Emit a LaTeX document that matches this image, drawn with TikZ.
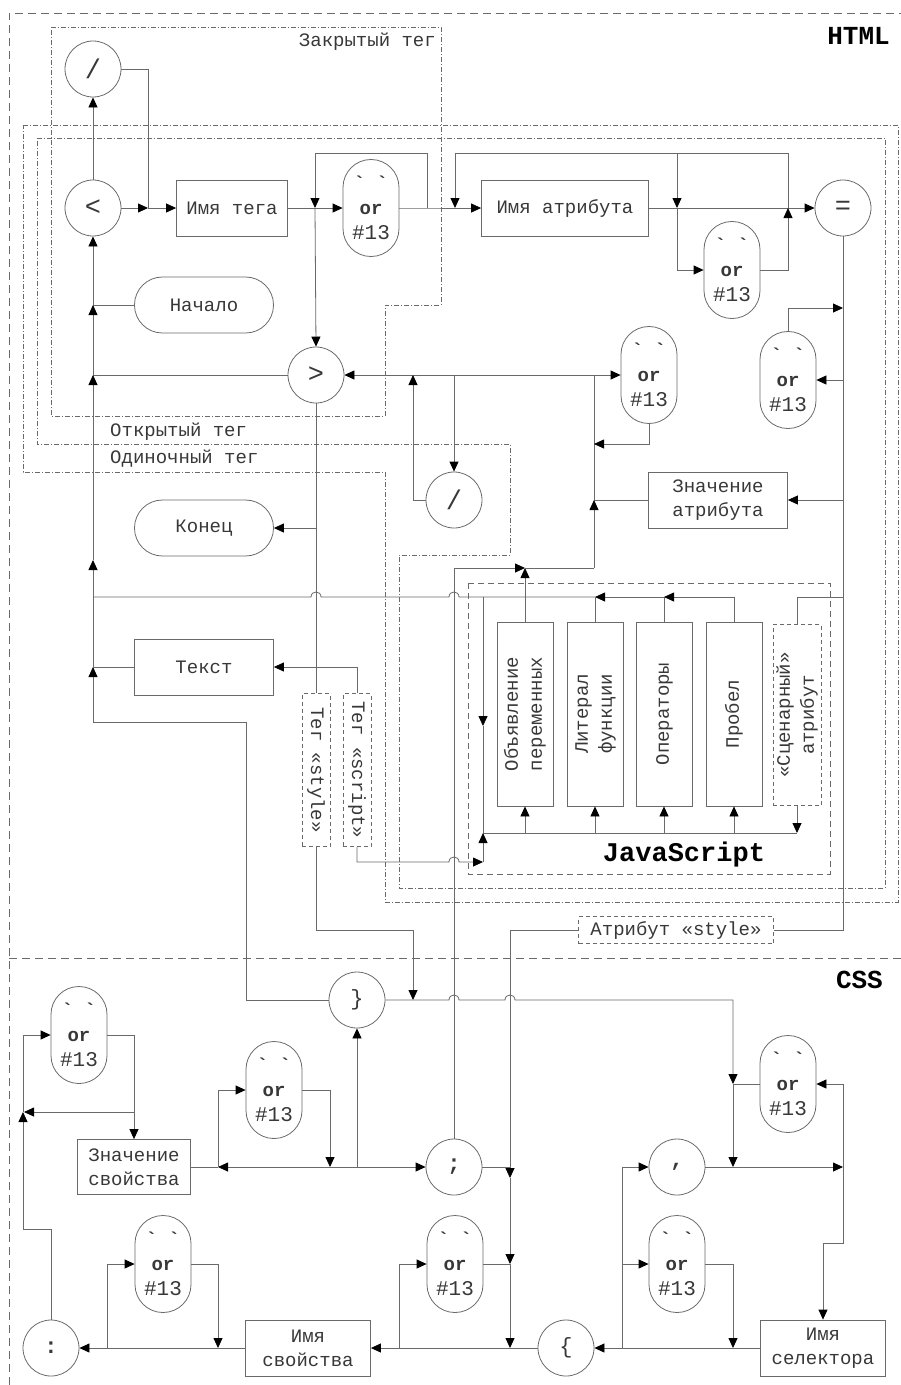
\documentclass[tikz,border=0pt]{standalone}
\usepackage{fontspec}
\setmainfont{Liberation Mono}
\setmonofont{Liberation Mono}
\usepackage{graphicx}
\usetikzlibrary{arrows.meta}
\definecolor{lc}{HTML}{6A6A6A}
\definecolor{tc}{HTML}{383838}
\newcommand\myfs{\ttfamily\fontsize{19}{24}\selectfont}
\newcommand\bigsym{\ttfamily\fontsize{27}{27}\selectfont}
\newcommand\wstext{{\bfseries `\ `}\\{\bfseries or}\\{\fontsize{21}{25}\selectfont\#13}}
\newcommand\rot[1]{\rotatebox{90}{\begin{tabular}{@{}c@{}}#1\end{tabular}}}
\tikzset{
 ln/.style={draw=lc,line width=0.8pt},
 arr/.style={ln,-{Triangle[length=10pt,width=9pt,color=black]}},
 cir/.style={circle,draw=lc,line width=0.8pt,minimum size=56pt,inner sep=0pt,text=tc,font=\myfs},
 rbox/.style={rectangle,draw=lc,line width=0.8pt,inner sep=0pt,text=tc,align=center,font=\myfs},
 stad/.style={rbox,rounded corners=27.9pt,minimum width=139pt,minimum height=56pt},
 ws/.style={rbox,rounded corners=27.9pt,minimum width=56pt,minimum height=97pt,font=\ttfamily\fontsize{19}{25}\selectfont},
 dbox/.style={rbox,dash pattern=on 4pt off 3pt},
 outerframe/.style={draw=lc,line width=0.8pt,dash pattern=on 8pt off 5pt},
 dd/.style={draw=lc,line width=0.7pt,dash pattern=on 5pt off 2pt on 1pt off 2pt},
 jsframe/.style={draw=lc,line width=0.8pt,dash pattern=on 6pt off 4pt},
 lbl/.style={text=tc,font=\myfs,inner sep=0pt},
}
\begin{document}
\begin{tikzpicture}[x=1pt,y=-1pt]
\useasboundingbox (0,0) rectangle (901,1385);
% frames
\draw[outerframe] (9,1385) -- (9,13) -- (901,13);
\draw[outerframe] (9,958) -- (901,958);
\draw[dd] (51,27) -- (441,27) -- (441,305) -- (385,305) -- (385,416) -- (51,416) -- cycle;
\draw[dd] (37,138) -- (885,138) -- (885,888) -- (399,888) -- (399,555) -- (510,555) -- (510,444) -- (37,444) -- cycle;
\draw[dd] (23,125) -- (898,125) -- (898,902) -- (385,902) -- (385,472) -- (23,472) -- cycle;
\draw[jsframe] (468,583) rectangle (830,874);
% labels
\node[lbl,anchor=east] (lclosed) at (436,42) {Закрытый тег};
\node[lbl,anchor=west] (lopen) at (110,432) {Открытый тег};
\node[lbl,anchor=west] (lsingle) at (110,459) {Одиночный тег};
\node[inner sep=0pt,anchor=east,font=\ttfamily\fontsize{26}{26}\selectfont\bfseries] (lhtml) at (890,36) {HTML};
\node[inner sep=0pt,anchor=east,font=\ttfamily\fontsize{26}{26}\selectfont\bfseries] (lcss) at (883,980) {CSS};
\node[inner sep=0pt,font=\ttfamily\fontsize{27}{27}\selectfont\bfseries] (ljs) at (684,855) {JavaScript};
% HTML nodes
\node[cir,font=\bigsym] (sl1) at (93,69) {/};
\node[cir,font=\bigsym] (lt) at (93,208) {<};
\node[rbox,minimum width=111pt,minimum height=56pt] (tagname) at (232,208) {Имя тега};
\node[ws] (ws1) at (371,208) {\wstext};
\node[rbox,minimum width=167pt,minimum height=56pt] (attrname) at (565,208) {Имя атрибута};
\node[ws] (ws2) at (732,270) {\wstext};
\node[cir,font=\bigsym] (eq) at (843,208) {=};
\node[stad] (start) at (204,305) {Начало};
\node[cir,font=\bigsym] (gt) at (316,375) {>};
\node[ws] (ws4) at (649,375) {\wstext};
\node[ws] (ws3) at (788,380) {\wstext};
\node[cir,font=\bigsym] (sl2) at (454,500) {/};
\node[rbox,minimum width=139pt,minimum height=56pt] (attrval) at (718,500) {Значение\\атрибута};
\node[stad] (end) at (204,528) {Конец};
\node[rbox,minimum width=139pt,minimum height=56pt] (text) at (204,667) {Текст};
\node[dbox,minimum width=28pt,minimum height=153pt] (tstyle) at (316,770) {\rotatebox{-90}{Тег «style»}};
\node[dbox,minimum width=28pt,minimum height=153pt] (tscript) at (357,770) {\rotatebox{-90}{Тег «script»}};
\node[rbox,minimum width=56pt,minimum height=184pt] (js1) at (525,714) {\rot{Объявление\\переменных}};
\node[rbox,minimum width=56pt,minimum height=184pt] (js2) at (595,714) {\rot{Литерал\\функции}};
\node[rbox,minimum width=56pt,minimum height=184pt] (js3) at (664,714) {\rot{Операторы}};
\node[rbox,minimum width=56pt,minimum height=184pt] (js4) at (734,714) {\rot{Пробел}};
\node[dbox,minimum width=43pt,minimum height=181pt] (js5) at (797,715) {\rot{«Сценарный»\\атрибут}};
\node[dbox,minimum width=195pt,minimum height=27pt] (attrstyle) at (676,930) {Атрибут «style»};
% CSS nodes
\node[cir,font=\ttfamily\fontsize{22}{22}\selectfont] (rbrace) at (357,1000) {\}};
\node[ws] (wsA) at (79,1035) {\wstext};
\node[ws] (wsB) at (274,1090) {\wstext};
\node[ws] (wsC) at (788,1084) {\wstext};
\node[rbox,minimum width=113pt,minimum height=55pt] (propval) at (134,1167) {Значение\\свойства};
\node[cir,font=\ttfamily\fontsize{22}{22}\selectfont] (semi) at (454,1167) {\bfseries ;};
\node[cir,font=\ttfamily\fontsize{22}{22}\selectfont] (comma) at (677,1167) {\bfseries ,};
\node[ws] (wsD) at (163,1264) {\wstext};
\node[ws] (wsE) at (455,1264) {\wstext};
\node[ws] (wsF) at (677,1264) {\wstext};
\node[cir,font=\ttfamily\fontsize{22}{22}\selectfont] (colon) at (51,1348) {\bfseries :};
\node[rbox,minimum width=125pt,minimum height=56pt] (propname) at (308,1348) {Имя\\свойства};
\node[cir,font=\ttfamily\fontsize{22}{22}\selectfont] (lbrace) at (566,1348) {\{};
\node[rbox,minimum width=125pt,minimum height=56pt] (selname) at (823,1348) {Имя\\селектора};
% junction coordinates
\coordinate (j1) at (148,208);
\coordinate (j2) at (315,208);
\coordinate (j3) at (427,208);
\coordinate (j4) at (455,208);
\coordinate (j5) at (677,208);
\coordinate (j6) at (788,208);
\coordinate (k1) at (594,500);
\coordinate (k2) at (594,375);
\coordinate (k3) at (594,568);
% top connectors
\draw[arr] (lt.north) -- (sl1.south);
\draw[arr] (lt.east) -- (j1);
\draw[ln] (sl1.east) -| (j1);
\draw[arr] (j1) -- (tagname.west);
\draw[ln] (tagname.east) -- (j2);
\draw[arr] (j2) -- (ws1.west);
\draw[ln] (ws1.east) -- (j3) -- (j4);
\draw[arr] (j3) -- (427,153) -- (315,153) -- (j2);
\draw[arr] (j2) -- (gt.north);
\draw[arr] (j4) -- (attrname.west);
\draw[ln] (attrname.east) -- (j6);
\draw[arr] (j6) -- (eq.west);
\draw[arr] (j6) -- (788,153) -- (455,153) -- (j4);
\draw[arr] (677,153) -- (j5);
\draw[arr] (j5) |- (ws2.west);
\draw[arr] (ws2.east) -| (j6);
% '=' vertical
\draw[ln] (eq.south) |- (attrstyle.east);
\draw[arr] (843,380) -- (ws3.east);
\draw[arr] (ws3.north) |- (843,308);
\draw[arr] (843,500) -- (attrval.east);
\draw[ln] (843,597) -| (js5.north);
% collector
\draw[ln] (attrval.west) -- (k1);
\draw[arr] (k3) -- (k1);
\draw[ln] (k1) -- (k2);
\draw[arr] (ws4.south) |- (594,444);
\draw[arr] (k2) -- (ws4.west);
\draw[arr] (k2) -- (gt.east);
\draw[arr] (454,375) -- (sl2.north);
\draw[arr] (sl2.west) -| (413,375);
% left vertical
\draw[ln] (gt.west) -- (93,375);
\draw[ln] (start.west) -- (93,305);
\draw[arr] (93,305) -- (lt.south);
\draw[arr] (93,375) -- (93,305);
\draw[arr] (93,560) -- (93,375);
\draw[arr] (93,667) -- (93,560);
\draw[arr] (rbrace.west) -| (246,722) -- (93,722) -- (93,667);
\draw[ln] (text.west) -- (93,667);
% '>' down
\draw[ln] (gt.south) -- (tstyle.north);
\draw[arr] (316,528) -- (end.east);
\draw[arr] (tscript.north) |- (text.east);
% JS buses
\draw[ln] (js3.north) -- (664,597);
\draw[arr] (js4.north) |- (664,597);
\draw[arr] (664,597) -- (595,597);
\draw[ln] (js2.north) -- (595,597);
\draw[ln] (595,597) -- (459,597) .. controls (459,590.3) and (449,590.3) .. (449,597) -- (321,597) .. controls (321,590.3) and (311,590.3) .. (311,597) -- (93,597);
\draw[arr] (483,597) -- (483,726);
\draw[ln] (483,726) -- (483,833) -- (797,833);
\draw[arr] (js5.south) -- (797,833);
\draw[arr] (525,833) -- (js1.south);
\draw[arr] (595,833) -- (js2.south);
\draw[arr] (664,833) -- (js3.south);
\draw[arr] (734,833) -- (js4.south);
\draw[arr] (tscript.south) |- (449,862) .. controls (449,855.3) and (459,855.3) .. (459,862) -- (483,862);
\draw[arr] (483,862) -- (483,833);
\draw[arr] (js1.north) -- (525,568);
\draw[arr] (454,568) -- (525,568);
\draw[ln] (525,568) -- (k3);
\draw[ln] (semi.north) -- (454,568);
% style tag
\draw[arr] (tstyle.south) |- (413,930) -- (413,1000);
\draw[arr] (rbrace.east) -- (449,1000) .. controls (449,993.3) and (459,993.3) .. (459,1000) -- (505,1000) .. controls (505,993.3) and (515,993.3) .. (515,1000) -- (733,1000) -- (733,1084);
\draw[ln] (wsC.west) -- (733,1084);
\draw[arr] (733,1084) -- (733,1167);
\draw[arr] (comma.east) -- (843,1167);
\draw[arr] (843,1167) |- (wsC.east);
\draw[arr] (843,1167) -- (843,1243) -| (selname.north);
\draw[arr] (selname.west) -- (lbrace.east);
\draw[arr] (wsF.east) -| (733,1348);
\draw[ln] (622,1348) -- (622,1167);
\draw[arr] (622,1264) -- (wsF.west);
\draw[arr] (622,1167) -- (comma.west);
% attribute style
\draw[ln] (attrstyle.west) -| (510,1167);
\draw[ln] (semi.east) -- (510,1167);
\draw[arr] (510,1167) -- (510,1178);
\draw[arr] (510,1178) -- (510,1264);
\draw[ln] (wsE.east) -- (510,1264);
\draw[arr] (510,1264) -- (510,1348);
\draw[arr] (lbrace.west) -- (propname.east);
\draw[arr] (399,1348) |- (wsE.west);
% left CSS
\draw[arr] (propname.west) -- (colon.east);
\draw[arr] (wsD.east) -| (218,1348);
\draw[arr] (107,1348) |- (wsD.west);
\draw[arr] (colon.north) |- (23,1229) -- (23,1112);
\draw[arr] (23,1112) |- (wsA.west);
\draw[arr] (wsA.east) -| (propval.north);
\draw[arr] (134,1112) -- (24,1112);
\draw[ln] (propval.east) -- (218,1167);
\draw[arr] (357,1167) -- (218,1167);
\draw[arr] (218,1167) |- (wsB.west);
\draw[arr] (wsB.east) -| (330,1167);
\draw[arr] (357,1167) -- (semi.west);
\draw[arr] (357,1167) -- (rbrace.south);
\end{tikzpicture}
\end{document}
